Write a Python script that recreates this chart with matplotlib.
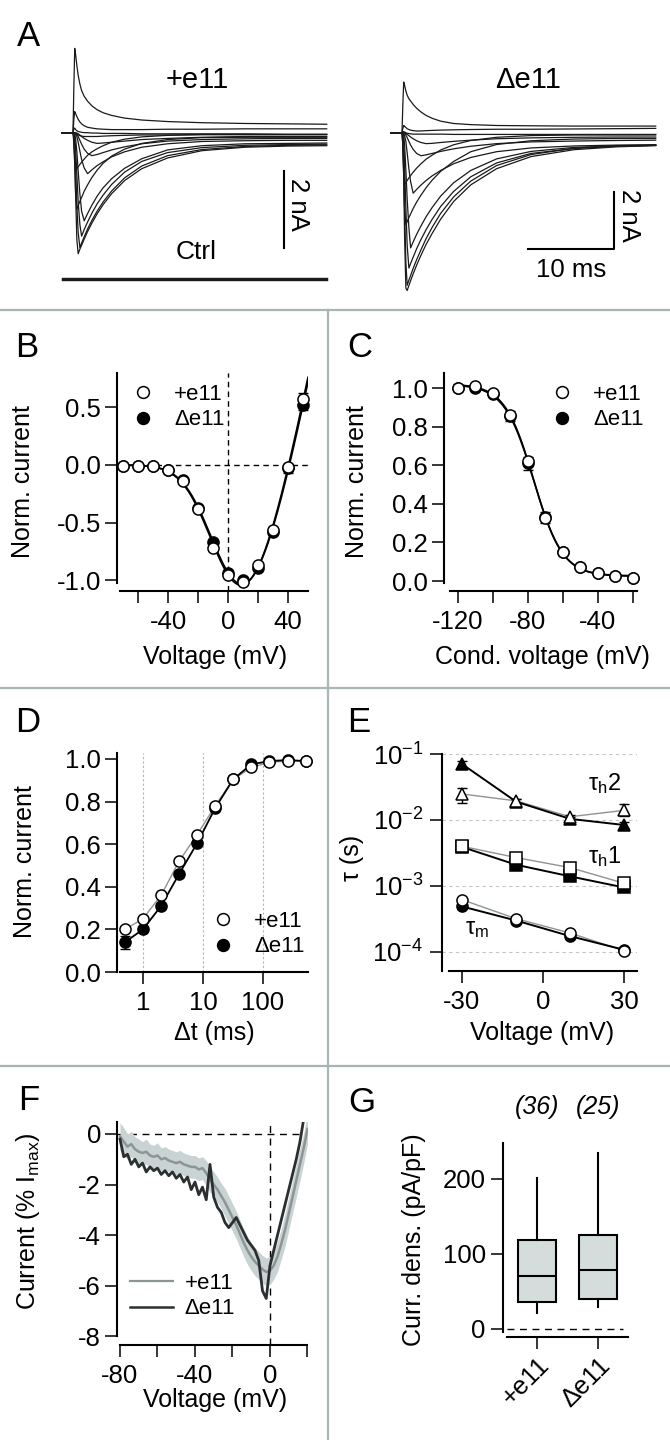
import numpy as np
import matplotlib
matplotlib.use("Agg")
import matplotlib.pyplot as plt
from matplotlib.lines import Line2D
from matplotlib.ticker import NullLocator, FormatStrFormatter

plt.rcParams['font.family'] = ['Liberation Sans', 'DejaVu Sans']
plt.rcParams['mathtext.fontset'] = 'custom'
plt.rcParams['mathtext.rm'] = 'Liberation Sans'
plt.rcParams['mathtext.it'] = 'Liberation Sans:italic'
plt.rcParams['mathtext.bf'] = 'Liberation Sans:bold'
plt.rcParams['axes.unicode_minus'] = False

# ---------------------------------------------------------------- data
# Panel A: current traces (nA) sampled at these times (ms after step onset)
trace_time_ms = [-1.3, 0, 0.1, 0.2, 0.3, 0.45, 0.6, 0.8, 1.0, 1.3, 1.7, 2.2,
                 2.8, 3.5, 4.5, 6, 8, 11, 15, 20, 25, 29.5]
plus_traces_nA = [
    [0, 0, 1.2, 2.2, 2.05, 1.75, 1.5, 1.27, 1.1, 0.95, 0.82, 0.7, 0.6, 0.52, 0.45, 0.38, 0.33, 0.29, 0.26, 0.24, 0.23, 0.22],
    [0, 0, 0.35, 0.55, 0.5, 0.42, 0.35, 0.28, 0.23, 0.18, 0.14, 0.12, 0.1, 0.09, 0.08, 0.08, 0.08, 0.09, 0.09, 0.1, 0.1, 0.1],
    [0, 0, 0.1, 0.12, 0.08, 0.05, 0.03, 0.02, 0.01, 0, 0, -0.01, -0.01, -0.02, -0.02, -0.02, -0.03, -0.03, -0.03, -0.03, -0.04, -0.04],
    [0, 0, 0, -0.01, -0.02, -0.04, -0.06, -0.08, -0.09, -0.1, -0.1, -0.1, -0.1, -0.09, -0.08, -0.07, -0.06, -0.06, -0.05, -0.05, -0.05, -0.05],
    [0, 0, 0, 0, 0, -0.01, -0.03, -0.06, -0.1, -0.15, -0.2, -0.25, -0.28, -0.27, -0.25, -0.22, -0.18, -0.15, -0.12, -0.1, -0.1, -0.1],
    [0, 0, 0, 0, -0.01, -0.04, -0.1, -0.2, -0.3, -0.43, -0.54, -0.6, -0.57, -0.52, -0.45, -0.37, -0.29, -0.22, -0.18, -0.16, -0.15, -0.15],
    [0, 0, 0, 0, -0.03, -0.1, -0.25, -0.48, -0.7, -0.92, -1.07, -0.97, -0.86, -0.76, -0.63, -0.5, -0.38, -0.29, -0.23, -0.21, -0.2, -0.2],
    [0, 0, 0, -0.03, -0.15, -0.5, -1.0, -1.6, -2.05, -2.3, -2.11, -1.89, -1.66, -1.44, -1.2, -0.93, -0.68, -0.45, -0.34, -0.29, -0.28, -0.27],
    [0, 0, 0, -0.1, -0.4, -1.1, -1.8, -2.4, -2.7, -2.53, -2.33, -2.1, -1.86, -1.63, -1.35, -1.03, -0.75, -0.52, -0.39, -0.33, -0.31, -0.3],
    [0, 0, -0.05, -0.3, -0.9, -1.9, -2.6, -3.0, -2.88, -2.72, -2.51, -2.29, -2.05, -1.81, -1.52, -1.18, -0.87, -0.6, -0.44, -0.36, -0.33, -0.32],
    [0, 0, -0.1, -0.6, -1.6, -2.8, -3.16, -3.04, -2.94, -2.78, -2.58, -2.36, -2.12, -1.88, -1.59, -1.25, -0.94, -0.66, -0.47, -0.38, -0.35, -0.34],
    [0, 0, -0.15, -0.8, -1.55, -2.0, -1.91, -1.79, -1.69, -1.53, -1.36, -1.17, -0.98, -0.8, -0.61, -0.43, -0.28, -0.18, -0.13, -0.12, -0.12, -0.12],
    [0, 0, -0.3, -0.8, -1.0, -0.94, -0.89, -0.83, -0.77, -0.69, -0.59, -0.5, -0.42, -0.34, -0.25, -0.17, -0.11, -0.07, -0.05, -0.05, -0.05, -0.05],
]
delta_traces_nA = [
    [0, 0, 1.0, 1.76, 1.65, 1.45, 1.3, 1.18, 1.1, 0.98, 0.85, 0.72, 0.6, 0.5, 0.4, 0.32, 0.28, 0.25, 0.24, 0.23, 0.23, 0.23],
    [0, 0, 0.15, 0.25, 0.22, 0.18, 0.14, 0.11, 0.09, 0.07, 0.06, 0.06, 0.07, 0.08, 0.09, 0.1, 0.11, 0.12, 0.12, 0.13, 0.14, 0.15],
    [0, 0, 0.03, 0.04, 0.02, 0, -0.02, -0.03, -0.04, -0.05, -0.05, -0.05, -0.05, -0.05, -0.05, -0.06, -0.06, -0.06, -0.06, -0.06, -0.06, -0.06],
    [0, 0, 0, 0, -0.01, -0.03, -0.06, -0.1, -0.15, -0.21, -0.28, -0.34, -0.38, -0.37, -0.34, -0.3, -0.26, -0.21, -0.18, -0.16, -0.15, -0.15],
    [0, 0, 0, 0, -0.02, -0.08, -0.17, -0.3, -0.43, -0.58, -0.72, -0.8, -0.77, -0.72, -0.65, -0.56, -0.47, -0.38, -0.32, -0.29, -0.27, -0.26],
    [0, 0, 0, -0.02, -0.1, -0.3, -0.7, -1.25, -1.7, -2.1, -1.97, -1.82, -1.66, -1.5, -1.31, -1.08, -0.86, -0.66, -0.53, -0.46, -0.43, -0.42],
    [0, 0, 0, -0.1, -0.4, -1.3, -2.3, -3.3, -4.0, -3.79, -3.53, -3.24, -2.92, -2.6, -2.2, -1.74, -1.31, -0.91, -0.65, -0.51, -0.46, -0.44],
    [0, 0, -0.02, -0.3, -1.1, -2.6, -3.9, -4.7, -4.54, -4.32, -4.03, -3.71, -3.37, -3.01, -2.56, -2.04, -1.53, -1.05, -0.72, -0.55, -0.47, -0.44],
    [0, 0, -0.1, -0.9, -2.6, -4.5, -5.3, -5.12, -4.96, -4.71, -4.41, -4.07, -3.68, -3.29, -2.8, -2.23, -1.68, -1.14, -0.76, -0.54, -0.45, -0.42],
    [0, 0, -0.3, -1.6, -3.6, -5.4, -5.48, -5.31, -5.14, -4.9, -4.6, -4.26, -3.88, -3.5, -3.0, -2.39, -1.81, -1.25, -0.83, -0.59, -0.49, -0.45],
    [0, 0, -0.4, -1.5, -2.6, -3.2, -3.09, -2.95, -2.82, -2.63, -2.41, -2.17, -1.91, -1.65, -1.34, -1.0, -0.66, -0.41, -0.28, -0.22, -0.2, -0.2],
    [0, 0, -0.5, -1.4, -1.8, -1.73, -1.66, -1.57, -1.49, -1.37, -1.23, -1.08, -0.92, -0.78, -0.6, -0.42, -0.27, -0.16, -0.1, -0.08, -0.08, -0.08],
]
ctrl_levels_nA = [-3.79, -3.82, -3.85]

# Panel B: I-V relation
b_voltage = [-70, -60, -50, -40, -30, -20, -10, 0, 10, 20, 30, 40, 50]
b_plus = [-0.01, -0.01, -0.01, -0.04, -0.14, -0.38, -0.72, -0.95, -1.01, -0.87, -0.56, -0.02, 0.57]
b_delta = [-0.01, -0.01, -0.01, -0.04, -0.13, -0.37, -0.67, -0.94, -1.00, -0.89, -0.58, -0.03, 0.52]
b_plus_err = [0, 0, 0, 0, 0, 0, 0, 0, 0, 0, 0, 0.03, 0.05]
b_delta_err = [0, 0, 0, 0, 0, 0, 0, 0, 0, 0, 0, 0.04, 0.04]

# Panel C: steady-state inactivation
c_voltage = [-120, -110, -100, -90, -80, -70, -60, -50, -40, -30, -20]
c_plus = [1.0, 1.01, 0.975, 0.86, 0.62, 0.325, 0.15, 0.075, 0.04, 0.025, 0.015]
c_delta = [1.0, 1.0, 0.97, 0.855, 0.61, 0.33, 0.15, 0.07, 0.04, 0.025, 0.015]
c_err = [0, 0, 0, 0.025, 0.035, 0.03, 0, 0, 0, 0, 0]

# Panel D: recovery from inactivation
d_dt_ms = [0.5, 1, 2, 4, 8, 16, 32, 64, 128, 256, 512]
d_plus = [0.20, 0.25, 0.36, 0.52, 0.645, 0.78, 0.905, 0.96, 0.985, 0.99, 0.99]
d_delta = [0.14, 0.20, 0.31, 0.46, 0.605, 0.77, 0.905, 0.975, 0.99, 0.995, 0.99]
d_delta_err = [0.03, 0, 0, 0, 0, 0, 0, 0, 0, 0, 0]

# Panel E: time constants (s)
e_voltage = [-30, -10, 10, 30]
tau_h2_plus = [0.0248, 0.0195, 0.0112, 0.0140]
tau_h2_plus_err_low = [0.0068, 0.0015, 0.0008, 0.0025]
tau_h2_plus_err_high = [0.0057, 0.0015, 0.0008, 0.0035]
tau_h2_delta = [0.0705, 0.0190, 0.0104, 0.0084]
tau_h2_delta_err = [0.009, 0.0015, 0.0006, 0.0009]
tau_h1_plus = [0.0040, 0.0027, 0.0019, 0.0011]
tau_h1_delta = [0.0039, 0.0021, 0.0014, 0.00095]
tau_m_plus = [0.00062, 0.00032, 0.000194, 0.000104]
tau_m_delta = [0.00049, 0.00030, 0.000174, 0.000108]

# Panel F: ramp currents (% Imax)
f_voltage_plus = [-80, -78, -76, -74, -72, -70, -68, -66, -64, -62, -60, -58, -56, -54, -52,
                  -50, -48, -46, -44, -42, -40, -38, -36, -34, -32, -30, -28, -26, -24, -22,
                  -20, -18, -16, -14, -12, -10, -8, -6, -4, -2, 0, 2, 4, 6, 8, 10, 12, 14,
                  16, 18, 20]
f_plus_mean = [-0.1, -0.3, -0.5, -0.4, -0.6, -0.7, -0.75, -0.7, -0.85, -0.9, -0.85, -1.0, -0.95,
               -1.05, -1.1, -1.15, -1.1, -1.2, -1.25, -1.3, -1.3, -1.4, -1.35, -1.55, -1.8, -2.0,
               -2.2, -2.45, -2.7, -3.0, -3.3, -3.6, -3.95, -4.3, -4.6, -4.85, -5.05, -5.2, -5.35,
               -5.45, -5.4, -5.2, -4.85, -4.35, -3.8, -3.15, -2.5, -1.85, -1.2, -0.55, 0.2]
f_plus_sem = [0.55, 0.55, 0.5, 0.5, 0.5, 0.5, 0.45, 0.5, 0.45, 0.45, 0.5, 0.45, 0.45, 0.45, 0.45,
              0.45, 0.45, 0.45, 0.45, 0.45, 0.45, 0.45, 0.45, 0.5, 0.5, 0.5, 0.5, 0.5, 0.55, 0.55,
              0.55, 0.55, 0.55, 0.55, 0.55, 0.55, 0.55, 0.55, 0.55, 0.55, 0.55, 0.55, 0.6, 0.6,
              0.65, 0.65, 0.65, 0.65, 0.65, 0.6, 0.6]
f_voltage_delta = [-80, -78, -76, -74, -72, -70, -68, -66, -64, -62, -60, -58, -56, -54, -52,
                   -50, -48, -46, -44, -42, -40, -38, -36, -34, -32, -30, -28, -26, -24, -22,
                   -20, -18, -16, -14, -12, -10, -8, -6, -4, -2, 0, 2, 4, 6, 8, 10, 12, 14,
                   16, 18]
f_delta_mean = [-0.2, -0.9, -0.8, -1.2, -1.0, -1.3, -1.15, -1.5, -1.3, -1.45, -1.35, -1.6, -1.45,
                -1.65, -1.5, -1.75, -1.6, -1.9, -1.7, -2.2, -1.9, -2.4, -2.1, -2.6, -1.2, -2.5,
                -2.9, -3.1, -3.5, -3.7, -3.5, -3.3, -3.6, -3.9, -4.2, -4.4, -4.6, -5.0, -6.2,
                -6.5, -5.2, -4.6, -4.0, -3.4, -2.8, -2.2, -1.6, -1.0, -0.3, 0.6]

# Panel G: current density box plots (pA/pF)
g_labels = ['+e11', '\u0394e11']
g_n = [36, 25]
g_median = [71, 79]
g_q1 = [36, 40]
g_q3 = [119, 125]
g_whislo = [21, 29]
g_whishi = [201, 235]

# ---------------------------------------------------------------- layout helpers
W, H = 670, 1440
fig = plt.figure(figsize=(W / 100, H / 100), dpi=100)
fig.patch.set_facecolor('white')

TICK = 18.5
LAB = 18
LEG = 16
LET = 25
SEP = '#a9b5b5'
GRAY_LINE = '#8c9494'
DARK = '#2b2f30'


def px_ax(x0, y0, x1, y1):
    return fig.add_axes([x0 / W, 1 - y1 / H, (x1 - x0) / W, (y1 - y0) / H])


def ftext(x, y, s, **kw):
    return fig.text(x / W, 1 - y / H, s, **kw)


def ax_coords(ax, x, y):
    bb = ax.get_position()
    return ((x / W - bb.x0) / bb.width, ((1 - y / H) - bb.y0) / bb.height)


def place_labels(ax, xlabel, xpos, ylabel, ypos):
    if xlabel is not None:
        ax.set_xlabel(xlabel, fontsize=LAB)
        ax.xaxis.set_label_coords(*ax_coords(ax, *xpos))
        ax.xaxis.label.set_verticalalignment('center')
    if ylabel is not None:
        ax.set_ylabel(ylabel, fontsize=LAB)
        ax.yaxis.set_label_coords(*ax_coords(ax, *ypos))
        ax.yaxis.label.set_verticalalignment('center')


def style(ax, xpad=5, ypad=3):
    for s in ('top', 'right'):
        ax.spines[s].set_visible(False)
    for s in ('left', 'bottom'):
        ax.spines[s].set_linewidth(1.5)
    ax.tick_params(which='major', direction='out', length=8.5, width=1.1, labelsize=TICK)
    ax.tick_params(axis='x', pad=xpad)
    ax.tick_params(axis='y', pad=ypad)
    ax.tick_params(which='minor', length=0)
    ax.set_facecolor('none')


dash = (0, (4, 3))

# ---------------------------------------------------------------- separators
for yy in (310, 688, 1066):
    fig.add_artist(Line2D([0, 1], [1 - yy / H] * 2, transform=fig.transFigure, color=SEP, lw=1.6))
fig.add_artist(Line2D([328 / W] * 2, [0, 1 - 310 / H], transform=fig.transFigure, color=SEP, lw=1.6))

# ---------------------------------------------------------------- panel A
axA1 = px_ax(55, 30, 335, 300)
axA1.set_xlim(-2.093, 30.465)
axA1.set_ylim(-4.368, 2.68)
axA1.axis('off')
for tr in plus_traces_nA:
    axA1.plot(trace_time_ms, tr, color='#1a1a1a', lw=0.9)
for lvl in ctrl_levels_nA:
    axA1.plot([trace_time_ms[0], trace_time_ms[-1]], [lvl, lvl], color='#1a1a1a', lw=1.0)
axA1.plot([24.53, 24.53], [-1.0, -3.0], color='k', lw=1.5)

axA2 = px_ax(385, 30, 665, 305)
axA2.set_xlim(-1.977, 30.58)
axA2.set_ylim(-5.983, 3.566)
axA2.axis('off')
for tr in delta_traces_nA:
    axA2.plot(trace_time_ms, tr, color='#1a1a1a', lw=0.9)
axA2.plot([14.65, 24.65, 24.65], [-4.05, -4.05, -2.05], color='k', lw=1.5)

ftext(197, 88, '+e11', fontsize=21, ha='center', va='baseline')
ftext(528, 88, '\u0394e11', fontsize=21, ha='center', va='baseline')
ftext(196, 259, 'Ctrl', fontsize=19, ha='center', va='baseline')
ftext(571, 277, '10 ms', fontsize=18.5, ha='center', va='baseline')
ftext(298, 204, '2 nA', fontsize=18.5, ha='center', va='center', rotation=-90)
ftext(629, 215, '2 nA', fontsize=18.5, ha='center', va='center', rotation=-90)

# ---------------------------------------------------------------- fits (least squares on the data)


def fit_iv(v, i):
    v = np.asarray(v, float)
    i = np.asarray(i, float)
    best = (np.inf, None)
    for vh in np.arange(-40, 20.01, 0.5):
        for k in np.arange(2, 25.01, 0.25):
            m3 = (1 / (1 + np.exp((vh - v) / k))) ** 3
            A = np.column_stack([v * m3, m3])
            coef = np.linalg.lstsq(A, i, rcond=None)[0]
            err = np.sum((A @ coef - i) ** 2)
            if err < best[0]:
                best = (err, (vh, k, coef))
    vh, k, coef = best[1]
    return lambda x: (coef[0] * x + coef[1]) * (1 / (1 + np.exp((vh - x) / k))) ** 3


def fit_boltz(v, i):
    v = np.asarray(v, float)
    i = np.asarray(i, float)
    best = (np.inf, None)
    for vh in np.arange(-100, -50.01, 0.25):
        for k in np.arange(2, 20.01, 0.1):
            b = 1 / (1 + np.exp((v - vh) / k))
            A = np.column_stack([b, np.ones_like(b)])
            coef = np.linalg.lstsq(A, i, rcond=None)[0]
            err = np.sum((A @ coef - i) ** 2)
            if err < best[0]:
                best = (err, (vh, k, coef))
    vh, k, coef = best[1]
    return lambda x: coef[0] / (1 + np.exp((x - vh) / k)) + coef[1]


mk = dict(marker='o', ms=8, mew=1.1, mec='k', linestyle='none', clip_on=False)

leg_handles = [Line2D([], [], marker='o', ms=8.5, mew=1.1, mec='k', mfc='white', ls='none'),
               Line2D([], [], marker='o', ms=8.5, mew=1.1, mec='k', mfc='k', ls='none')]
leg_labels = ['+e11', '\u0394e11']


def add_legend(ax, handles, x, y, hl=0.8, htp=1.0):
    ax.legend(handles, leg_labels, loc='upper left', bbox_to_anchor=ax_coords(ax, x, y),
              frameon=False, fontsize=LEG, handlelength=hl, handletextpad=htp,
              labelspacing=0.2, borderpad=0, borderaxespad=0)


# ---------------------------------------------------------------- panel B
axB = px_ax(117, 373, 308, 591)
style(axB)
axB.set_xlim(-74, 53.33)
axB.set_ylim(-1.092, 0.797)
axB.spines['left'].set_bounds(-1.02, 0.797)
axB.spines['bottom'].set_bounds(-72, 53.33)
axB.axhline(0, color='k', lw=1, ls=dash, zorder=1)
axB.axvline(0, color='k', lw=1, ls=dash, zorder=1)
vv = np.linspace(-72, 53.3, 300)
for series in (b_plus, b_delta):
    f = fit_iv(b_voltage, series)
    axB.plot(vv, f(vv), color='k', lw=1.2, zorder=2)
axB.errorbar(b_voltage, b_delta, yerr=b_delta_err, fmt='none', ecolor='k', elinewidth=1, capsize=3.5, zorder=3)
axB.errorbar(b_voltage, b_plus, yerr=b_plus_err, fmt='none', ecolor='k', elinewidth=1, capsize=3.5, zorder=3)
axB.plot(b_voltage, b_delta, mfc='k', zorder=4, **mk)
axB.plot(b_voltage, b_plus, mfc='white', zorder=5, **mk)
axB.set_xticks([-60, -40, -20, 0, 20, 40])
axB.set_xticklabels(['', '-40', '', '0', '', '40'])
axB.set_yticks([-1.0, -0.5, 0.0, 0.5])
axB.yaxis.set_major_formatter(FormatStrFormatter('%.1f'))
place_labels(axB, 'Voltage (mV)', (215, 657), 'Norm. current', (23, 482))
add_legend(axB, leg_handles, 134, 384)

# ---------------------------------------------------------------- panel C
axC = px_ax(444, 373, 637, 591)
style(axC)
axC.set_xlim(-128, -17.7)
axC.set_ylim(-0.0518, 1.078)
axC.spines['left'].set_bounds(-0.01, 1.078)
axC.spines['bottom'].set_bounds(-124.6, -17.7)
vc = np.linspace(-122, -18, 300)
for series in (c_plus, c_delta):
    f = fit_boltz(c_voltage, series)
    axC.plot(vc, f(vc), color='k', lw=1.2, zorder=2)
axC.errorbar(c_voltage, c_delta, yerr=c_err, fmt='none', ecolor='k', elinewidth=1, capsize=3.5, zorder=3)
axC.plot(c_voltage, c_delta, mfc='k', zorder=4, **mk)
axC.plot(c_voltage, c_plus, mfc='white', zorder=5, **mk)
axC.set_xticks([-120, -100, -80, -60, -40, -20])
axC.set_xticklabels(['-120', '', '-80', '', '-40', ''])
axC.set_yticks([0.0, 0.2, 0.4, 0.6, 0.8, 1.0])
axC.yaxis.set_major_formatter(FormatStrFormatter('%.1f'))
place_labels(axC, 'Cond. voltage (mV)', (542, 657), 'Norm. current', (357, 482))
add_legend(axC, leg_handles, 553, 384)

# ---------------------------------------------------------------- panel D
axD = px_ax(117, 753, 308, 972)
style(axD)
axD.set_xscale('log')
axD.set_xlim(0.369, 562)
axD.set_ylim(0, 1.028)
axD.spines['bottom'].set_bounds(0.414, 562)
for xv in (1, 10, 100):
    axD.axvline(xv, color='#b4b4b4', lw=0.8, ls=(0, (2, 2)), zorder=0)
axD.plot(d_dt_ms, d_plus, color=GRAY_LINE, lw=1.0, zorder=2)
axD.plot(d_dt_ms, d_delta, color='k', lw=1.3, zorder=2)
axD.errorbar(d_dt_ms, d_delta, yerr=d_delta_err, fmt='none', ecolor='k', elinewidth=1, capsize=3.5, zorder=3)
axD.plot(d_dt_ms, d_delta, mfc='k', zorder=4, **mk)
axD.plot(d_dt_ms, d_plus, mfc='white', zorder=5, **mk)
axD.set_xticks([1, 10, 100])
axD.set_xticklabels(['1', '10', '100'])
axD.xaxis.set_minor_locator(NullLocator())
axD.set_yticks([0.0, 0.2, 0.4, 0.6, 0.8, 1.0])
axD.yaxis.set_major_formatter(FormatStrFormatter('%.1f'))
place_labels(axD, '\u0394t (ms)', (214, 1033), 'Norm. current', (25, 862))
add_legend(axD, leg_handles, 214, 911)

# ---------------------------------------------------------------- panel E
axE = px_ax(442, 754, 637, 971)
style(axE, ypad=5)
axE.set_yscale('log')
axE.set_xlim(-37.4, 34.8)
axE.set_ylim(10 ** -4.288, 0.1)
axE.spines['bottom'].set_bounds(-34.8, 34.8)
for yv in (1e-1, 1e-2, 1e-3, 1e-4):
    axE.axhline(yv, color='#c4c4c4', lw=0.8, ls=(0, (3, 3)), zorder=0)
mkE = dict(ms=8, mew=1.1, mec='k', clip_on=False)
axE.errorbar(e_voltage, tau_h2_plus, yerr=[tau_h2_plus_err_low, tau_h2_plus_err_high],
             fmt='none', ecolor='k', elinewidth=1, capsize=3.5, zorder=3)
axE.errorbar(e_voltage, tau_h2_delta, yerr=tau_h2_delta_err,
             fmt='none', ecolor='k', elinewidth=1, capsize=3.5, zorder=3)
for plus, delta, m in ((tau_h2_plus, tau_h2_delta, '^'), (tau_h1_plus, tau_h1_delta, 's'),
                       (tau_m_plus, tau_m_delta, 'o')):
    axE.plot(e_voltage, plus, color=GRAY_LINE, lw=1.0, zorder=2)
    axE.plot(e_voltage, delta, color='k', lw=1.4, zorder=2)
    axE.plot(e_voltage, delta, marker=m, ls='none', mfc='k', zorder=4, **mkE)
    axE.plot(e_voltage, plus, marker=m, ls='none', mfc='white', zorder=5, **mkE)
axE.set_xticks([-30, 0, 30])
axE.set_xticklabels(['-30', '0', '30'])
axE.set_yticks([1e-4, 1e-3, 1e-2, 1e-1])
axE.yaxis.set_minor_locator(NullLocator())
place_labels(axE, 'Voltage (mV)', (542, 1033), '\u03c4 (s)', (352, 858))
ftext(588, 790, '\u03c4$_{\\mathrm{h}}$2', fontsize=17, ha='left', va='baseline')
ftext(588, 863, '\u03c4$_{\\mathrm{h}}$1', fontsize=17, ha='left', va='baseline')
ftext(465, 934, '\u03c4$_{\\mathrm{m}}$', fontsize=17, ha='left', va='baseline')

# ---------------------------------------------------------------- panel F
axF = px_ax(117, 1122, 308, 1345)
style(axF)
axF.set_xlim(-81.6, 20.27)
axF.set_ylim(-8.34, 0.474)
axF.spines['left'].set_bounds(-8, 0.474)
axF.spines['bottom'].set_bounds(-80, 20)
axF.axhline(0, color='k', lw=1, ls=(0, (5, 4)), zorder=1)
axF.axvline(0, color='k', lw=1, ls=(0, (5, 4)), zorder=1)
fp = np.asarray(f_plus_mean)
fs = np.asarray(f_plus_sem)
axF.fill_between(f_voltage_plus, fp - fs, fp + fs, color='#cad3d3', lw=0, zorder=2)
axF.plot(f_voltage_plus, f_plus_mean, color=GRAY_LINE, lw=1.8, zorder=3)
axF.plot(f_voltage_delta, f_delta_mean, color=DARK, lw=2.0, zorder=4)
axF.set_xticks([-80, -60, -40, -20, 0, 20])
axF.set_xticklabels(['-80', '', '-40', '', '0', ''])
axF.set_yticks([-8, -6, -4, -2, 0])
place_labels(axF, 'Voltage (mV)', (215, 1400), 'Current (% I$_{\\mathrm{max}}$)', (28, 1221))
f_handles = [Line2D([], [], color=GRAY_LINE, lw=1.6), Line2D([], [], color=DARK, lw=1.8)]
add_legend(axF, f_handles, 130, 1273, hl=1.95, htp=0.5)

# ---------------------------------------------------------------- panel G
axG = px_ax(503, 1143, 628, 1337)
style(axG, xpad=3, ypad=4)
axG.set_xlim(0.443, 2.49)
axG.set_ylim(-10.67, 248)
axG.spines['left'].set_bounds(-4, 248)
axG.spines['bottom'].set_bounds(0.508, 2.49)
axG.axhline(0, xmin=0.032, xmax=0.96, color='k', lw=1, ls=(0, (5, 4)), zorder=1)
stats = [dict(med=g_median[i], q1=g_q1[i], q3=g_q3[i], whislo=g_whislo[i],
              whishi=g_whishi[i], fliers=[]) for i in range(2)]
axG.bxp(stats, positions=[1, 2], widths=0.62, patch_artist=True, showcaps=False,
        boxprops=dict(facecolor='#d5dcdc', edgecolor='k', lw=1.5),
        medianprops=dict(color='k', lw=1.5),
        whiskerprops=dict(color='k', lw=1.5), manage_ticks=False)
axG.set_xticks([1, 2])
axG.set_xticklabels(g_labels, rotation=45, ha='right', va='top', rotation_mode='anchor')
axG.set_yticks([0, 100, 200])
place_labels(axG, None, None, 'Curr. dens. (pA/pF)', (414, 1240))
for pos, n in zip([1, 2], g_n):
    axG.text(pos, 296, '(%d)' % n, fontsize=18, style='italic', ha='center', va='center', clip_on=False)

# ---------------------------------------------------------------- panel letters
for letter, x, y in (('A', 17, 46), ('B', 15, 357), ('C', 347, 357), ('D', 15, 732),
                     ('E', 347, 732), ('F', 18, 1110), ('G', 348, 1112)):
    ftext(x, y, letter, fontsize=LET, ha='left', va='baseline')

fig.savefig('out.png', dpi=100)
